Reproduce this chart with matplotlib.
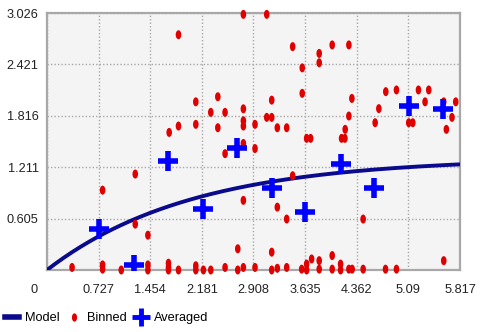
import numpy as np
import matplotlib
matplotlib.use("Agg")
import matplotlib.pyplot as plt
from matplotlib.path import Path
from matplotlib.lines import Line2D
from matplotlib.transforms import ScaledTranslation

plt.rcParams['font.family'] = ['Liberation Sans', 'DejaVu Sans']

# ---- data ----
x_ticks = [0, 0.727, 1.454, 2.181, 2.908, 3.635, 4.362, 5.09, 5.817]
x_tick_labels = ["0", "0.727", "1.454", "2.181", "2.908", "3.635", "4.362", "5.09", "5.817"]
y_ticks = [0.605, 1.211, 1.816, 2.421, 3.026]
y_tick_labels = ["0.605", "1.211", "1.816", "2.421", "3.026"]

binned_x = [0.353, 0.783, 0.783, 1.046, 1.421, 1.421, 1.711, 1.711, 1.711, 1.852,
            2.096, 2.096, 2.203, 2.307, 2.508, 2.687, 2.766, 2.93, 3.165, 3.244,
            3.376, 3.587, 3.657, 3.657, 3.727, 3.834, 3.834, 4.017, 4.017, 4.135,
            4.135, 4.252, 4.298, 4.453, 4.768, 4.922, 5.588,
            2.687, 3.165, 1.421, 1.243, 3.376, 4.453, 3.244, 2.766, 0.783, 1.243, 3.46,
            2.508, 2.766, 2.93,
            3.657, 3.713, 4.149, 4.196,
            1.721, 3.244, 3.376, 2.406, 1.852, 2.766, 2.096, 2.93, 4.2, 4.622, 5.095, 5.152, 5.625,
            2.766, 3.095, 3.165, 5.704, 4.252,
            2.307, 2.508, 2.766, 4.674,
            2.096, 5.325, 5.588, 5.757, 3.165, 4.294, 2.406, 3.595,
            4.772, 4.922, 5.232, 5.377,
            3.595, 3.834, 3.834, 3.46, 4.017, 4.252, 1.852, 2.766, 3.095]
binned_y = [0.03, 0.06, 0.01, 0.0, 0.06, 0.0, 0.08, 0.03, 0.0, 0.0,
            0.05, 0.0, 0.0, 0.0, 0.03, 0.0, 0.03, 0.03, 0.0, 0.02,
            0.03, 0.01, 0.07, 0.0, 0.13, 0.11, 0.01, 0.17, 0.01, 0.07,
            0.0, 0.01, 0.01, 0.01, 0.01, 0.01, 0.11,
            0.25, 0.21, 0.41, 0.54, 0.60, 0.60, 0.74, 0.82, 0.94, 1.13, 1.11,
            1.37, 1.49, 1.43,
            1.55, 1.55, 1.55, 1.55,
            1.62, 1.675, 1.675, 1.675, 1.695, 1.695, 1.715, 1.715, 1.656, 1.734, 1.734, 1.734, 1.656,
            1.757, 1.797, 1.797, 1.797, 1.813,
            1.856, 1.856, 1.898, 1.90,
            1.98, 1.98, 1.98, 1.98, 2.00, 2.02, 2.04, 2.08,
            2.10, 2.12, 2.12, 2.12,
            2.38, 2.44, 2.55, 2.63, 2.65, 2.65, 2.77, 3.01, 3.01]

averaged_x = [0.727, 1.219, 1.711, 2.195, 2.673, 3.165, 3.634, 4.136, 4.608, 5.102, 5.578]
averaged_y = [0.479, 0.059, 1.286, 0.714, 1.432, 0.962, 0.686, 1.248, 0.962, 1.93, 1.891]

# exponential model parameters
model_sill = 1.32
model_range = 6.12

# ---- figure ----
fig = plt.figure(figsize=(4.8, 3.32), dpi=100)
ax = fig.add_axes([47 / 480, 1 - 270 / 332, 413 / 480, 257 / 332])
ax.set_facecolor('#f4f4f4')
ax.set_xlim(0, 5.817)
ax.set_ylim(0, 3.026)

for s in ax.spines.values():
    s.set_color('#a8a8a8')
    s.set_linewidth(1.6)

ax.set_xticks(x_ticks)
ax.set_xticklabels(x_tick_labels)
ax.set_yticks(y_ticks)
ax.set_yticklabels(y_tick_labels)
ax.tick_params(axis='both', length=0, labelsize=9.2, colors='#222222')
ax.tick_params(axis='x', pad=10)
ax.tick_params(axis='y', pad=6)
ax.grid(True, color='#a8a8a8', linestyle=(0, (1, 1.5)), linewidth=1.0)
ax.set_axisbelow(True)

# shift the "0" label left
lbl0 = ax.get_xticklabels()[0]
lbl0.set_transform(lbl0.get_transform() + ScaledTranslation(-0.13, 0, fig.dpi_scale_trans))

# model curve
mx = np.linspace(0, 5.817, 200)
my = model_sill * (1 - np.exp(-3 * mx / model_range))
ax.plot(mx, my, color='#0a0a8c', linewidth=2.8, zorder=3, solid_capstyle='round')

# ellipse marker
t = np.linspace(0, 2 * np.pi, 40)
ell = Path(np.column_stack([0.62 * np.cos(t), np.sin(t)]), closed=True)

ax.scatter(binned_x, binned_y, marker=ell, s=42, color='#e00000', edgecolors='none',
           zorder=4, clip_on=False)
ax.plot(averaged_x, averaged_y, linestyle='none', marker='+', markersize=15,
        markeredgewidth=4, color='#0000ff', zorder=5)

handles = [
    Line2D([], [], color='#0a0a8c', linewidth=4),
    Line2D([], [], linestyle='none', marker=ell, markersize=6, color='#e00000', markeredgewidth=0),
    Line2D([], [], linestyle='none', marker='+', markersize=13, markeredgewidth=3.5, color='#0000ff'),
]
fig.legend(handles, ['Model', 'Binned', 'Averaged'], loc='center left',
           bbox_to_anchor=(-0.003, 14 / 332), ncol=3, frameon=False, fontsize=9.2,
           handlelength=1.1, handletextpad=0.45, columnspacing=0.6, borderpad=0.0)

fig.savefig('out.png', dpi=100)
